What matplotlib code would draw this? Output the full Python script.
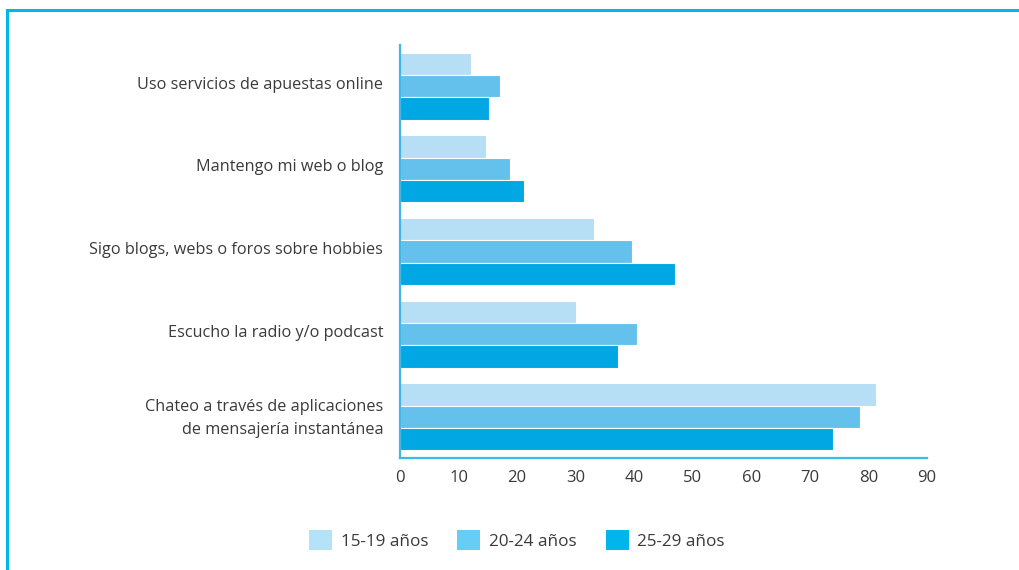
import matplotlib
matplotlib.use("Agg")
import matplotlib.pyplot as plt
from matplotlib.patches import Patch
from matplotlib.lines import Line2D
import matplotlib.transforms as mtransforms
import numpy as np

plt.rcParams['font.family'] = ['Open Sans', 'DejaVu Sans']

categories = [
    "Uso servicios de apuestas online",
    "Mantengo mi web o blog",
    "Sigo blogs, webs o foros sobre hobbies",
    "Escucho la radio y/o podcast",
    "Chateo a través de aplicaciones\nde mensajería instantánea",
]
series_names = ["15-19 años", "20-24 años", "25-29 años"]
v_15_19 = [12.1, 14.7, 33.1, 30.1, 81.3]
v_20_24 = [17.1, 18.8, 39.7, 40.5, 78.6]
v_25_29 = [15.2, 21.2, 47.0, 37.2, 74.0]
xticks = [0, 10, 20, 30, 40, 50, 60, 70, 80, 90]

bar_colors = ["#b6def4", "#63c1ec", "#00a7e2"]
legend_colors = ["#b4e2f8", "#66cdf5", "#00b4ec"]
frame_color = "#00b4ec"
axis_color = "#3db8ea"
text_color = "#3a3a3a"

fig = plt.figure(figsize=(10.19, 5.70), dpi=100)
ax = fig.add_axes([400/1019, 112/570, 527/1019, 413/570])

n = len(categories)
pos = np.arange(n)[::-1]  # first category at top
h = 0.27
series = [v_15_19, v_20_24, v_25_29]
offsets = [h, 0, -h]
for vals, off, col in zip(series, offsets, bar_colors):
    ax.barh(pos + off, vals, height=h, color=col, edgecolor="white", linewidth=0.8)

ax.set_xlim(0, 90)
ax.set_ylim(-0.5, 4.5)
ax.set_xticks(xticks)
ax.set_xticklabels([str(t) for t in xticks])
ax.set_yticks(pos)
ax.set_yticklabels(categories, ha="right", multialignment="right", linespacing=1.55)
ax.tick_params(axis="both", length=0, labelcolor=text_color)
ax.tick_params(axis="y", pad=12, labelsize=11.7)
ax.tick_params(axis="x", pad=9, labelsize=12)
shift = mtransforms.ScaledTranslation(0, 2.5/72, fig.dpi_scale_trans)
for lbl in ax.get_yticklabels():
    lbl.set_transform(lbl.get_transform() + shift)
for s in ["top", "right"]:
    ax.spines[s].set_visible(False)
for s in ["left", "bottom"]:
    ax.spines[s].set_color(axis_color)
    ax.spines[s].set_linewidth(1.6)

# frame lines
fig.add_artist(Line2D([7/1019, 7/1019], [0, 1 - 10/570], transform=fig.transFigure,
                      color=frame_color, linewidth=2.2, solid_capstyle="projecting"))
fig.add_artist(Line2D([7/1019, 1.0], [1 - 10/570, 1 - 10/570], transform=fig.transFigure,
                      color=frame_color, linewidth=2.2, solid_capstyle="projecting"))

handles = [Patch(facecolor=c, edgecolor="none") for c in legend_colors]
fig.legend(handles, series_names, loc="center", bbox_to_anchor=(517/1019, 1 - 540/570),
           ncol=3, frameon=False, fontsize=12.3, handlelength=1.35, handleheight=1.35,
           handletextpad=0.5, columnspacing=1.7, labelcolor=text_color)

fig.savefig("out.png", dpi=100, facecolor="white")
